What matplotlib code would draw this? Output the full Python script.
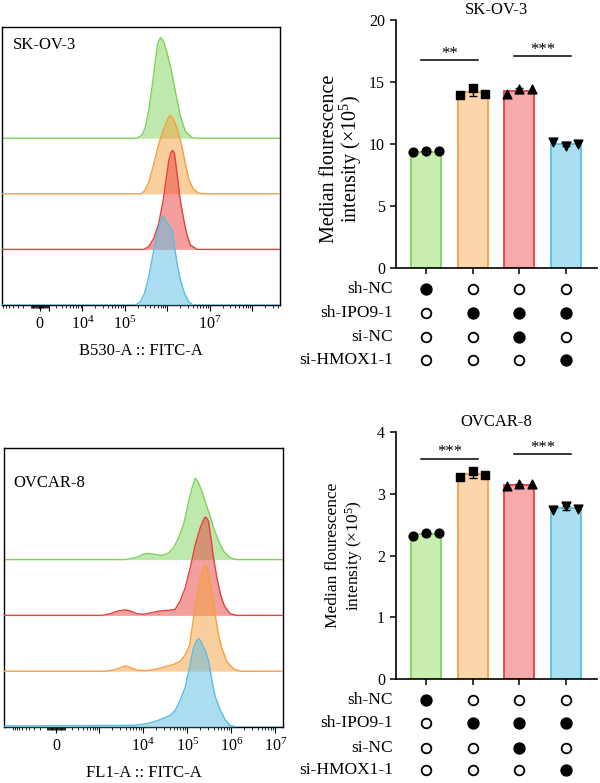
import matplotlib

matplotlib.use("Agg")
import matplotlib.pyplot as plt  # noqa: E402
import matplotlib.transforms as mtransforms  # noqa: E402
import numpy as np  # noqa: E402
from matplotlib.ticker import FixedFormatter, FixedLocator, NullFormatter  # noqa: E402

plt.rcParams["font.family"] = ["Liberation Serif", "DejaVu Serif"]
plt.rcParams["mathtext.fontset"] = "custom"
plt.rcParams["mathtext.rm"] = "Liberation Serif"
plt.rcParams["mathtext.it"] = "Liberation Serif:italic"
plt.rcParams["mathtext.bf"] = "Liberation Serif:bold"

# ---------------- data ----------------
groups = ["sh-NC", "sh-IPO9-1", "si-NC", "si-HMOX1-1"]
design = [[1, 0, 0, 0],      # sh-NC
          [0, 1, 1, 1],      # sh-IPO9-1
          [0, 0, 1, 0],      # si-NC
          [0, 0, 0, 1]]      # si-HMOX1-1

# median fluorescence (x10^5), three replicates per condition
skov3_reps = [[9.35, 9.40, 9.40], [13.95, 14.50, 14.05],
              [14.05, 14.45, 14.40], [10.20, 9.85, 10.00]]
ovcar8_reps = [[2.31, 2.37, 2.36], [3.27, 3.37, 3.30],
               [3.12, 3.15, 3.15], [2.74, 2.80, 2.75]]
skov3_sig = [(0, 1, 16.8, "**"), (2, 3, 17.1, "***")]
ovcar8_sig = [(0, 1, 3.57, "***"), (2, 3, 3.65, "***")]

# flow histograms: fluorescence value -> normalised count (1 = one row)
skov3_sh_nc_x = [1.96e5, 2.57e5, 3.08e5, 3.68e5, 4.41e5, 5.28e5, 5.98e5, 6.92e5, 8.29e5,
                 9.92e5, 1.19e6, 1.42e6, 1.70e6, 2.04e6, 2.67e6, 3.83e6, 5.03e6]
skov3_sh_nc_h = [0, 0.06, 0.21, 0.51, 0.93, 1.41, 1.71, 1.81, 1.74,
                 1.53, 1.29, 0.99, 0.69, 0.39, 0.12, 0.01, 0]
skov3_sh_ipo9_x = [2.35e5, 2.92e5, 3.68e5, 4.83e5, 6.32e5, 8.29e5, 1.03e6, 1.15e6, 1.30e6,
                   1.56e6, 1.86e6, 2.23e6, 2.67e6, 3.2e6, 4.06e6, 5.5e6, 7.2e6]
skov3_sh_ipo9_h = [0, 0.05, 0.21, 0.54, 0.90, 1.17, 1.35, 1.41, 1.38,
                   1.26, 1.08, 0.84, 0.54, 0.27, 0.09, 0.01, 0]
skov3_si_nc_x = [2.82e5, 3.68e5, 4.83e5, 6.32e5, 8.05e5, 9.58e5, 1.09e6, 1.23e6, 1.35e6,
                 1.48e6, 1.70e6, 1.97e6, 2.37e6, 2.84e6, 3.5e6, 5.03e6]
skov3_si_nc_h = [0, 0.05, 0.20, 0.47, 0.89, 1.31, 1.60, 1.75, 1.78,
                 1.72, 1.37, 0.95, 0.59, 0.29, 0.08, 0]
skov3_si_hmox1_x = [1.79e5, 2.35e5, 2.92e5, 3.68e5, 4.66e5, 5.78e5, 6.92e5, 7.8e5, 9.06e5,
                    1.09e6, 1.30e6, 1.48e6, 1.70e6, 2.04e6, 2.54e6, 3.2e6, 4.06e6]
skov3_si_hmox1_h = [0, 0.06, 0.21, 0.51, 0.93, 1.29, 1.50, 1.60, 1.53,
                    1.44, 1.35, 1.05, 0.75, 0.45, 0.21, 0.06, 0]

ovcar8_sh_nc_x = [3.9e3, 7.2e3, 1.02e4, 1.33e4, 1.73e4, 2.25e4, 2.91e4, 3.78e4, 4.9e4,
                  6.36e4, 8.28e4, 1.08e5, 1.28e5, 1.53e5, 1.82e5, 2.17e5, 2.57e5, 3.06e5,
                  3.97e5, 5.18e5, 6.73e5, 9.5e5, 1.35e6]
ovcar8_sh_nc_h = [0, 0.04, 0.10, 0.11, 0.10, 0.08, 0.08, 0.12, 0.21,
                  0.39, 0.63, 1.04, 1.28, 1.46, 1.37, 1.22, 1.04, 0.86,
                  0.57, 0.33, 0.15, 0.03, 0]
ovcar8_si_nc_x = [1.14e3, 1.78e3, 2.74e3, 3.9e3, 5.07e3, 7.2e3, 1.02e4, 1.58e4, 2.44e4,
                  3.78e4, 5.36e4, 6.94e4, 9.0e4, 1.17e5, 1.53e5, 1.98e5, 2.45e5, 2.7e5,
                  3.06e5, 3.47e5, 3.97e5, 4.75e5, 5.68e5, 7.0e5, 9.5e5, 1.35e6]
ovcar8_si_nc_h = [0, 0.03, 0.08, 0.10, 0.08, 0.03, 0.02, 0.05, 0.08,
                  0.09, 0.11, 0.26, 0.49, 0.85, 1.27, 1.57, 1.75, 1.76,
                  1.68, 1.38, 1.03, 0.67, 0.38, 0.17, 0.03, 0]
ovcar8_sh_ipo9_x = [1.36e3, 2.1e3, 3.0e3, 4.1e3, 5.3e3, 7.2e3, 1.22e4, 2.05e4, 3.46e4,
                    4.9e4, 6.94e4, 9.0e4, 1.13e5, 1.35e5, 1.67e5, 2.06e5, 2.45e5, 2.66e5,
                    3.06e5, 3.65e5, 4.35e5, 5.18e5, 6.2e5, 8.0e5, 1.14e6, 1.6e6]
ovcar8_sh_ipo9_h = [0, 0.02, 0.06, 0.095, 0.06, 0.02, 0.01, 0.04, 0.09,
                    0.12, 0.18, 0.29, 0.46, 0.88, 1.36, 1.71, 1.88, 1.89,
                    1.77, 1.42, 1.0, 0.64, 0.40, 0.17, 0.04, 0]
ovcar8_si_hmox1_x = [-1.5e3, 6.05e3, 1.22e4, 2.05e4, 3.18e4, 4.13e4, 5.36e4, 6.94e4, 9.0e4,
                     1.13e5, 1.40e5, 1.67e5, 1.89e5, 2.17e5, 2.57e5, 3.06e5, 3.65e5, 4.35e5,
                     5.68e5, 7.4e5, 9.5e5, 1.35e6]
ovcar8_si_hmox1_h = [0.02, 0.03, 0.06, 0.11, 0.17, 0.21, 0.30, 0.48, 0.71,
                     1.07, 1.43, 1.56, 1.58, 1.49, 1.37, 1.19, 0.83, 0.54,
                     0.30, 0.12, 0.03, 0]

# ---------------- style ----------------
LINE = ["#7ed35a", "#f6a03f", "#e8403f", "#5bbde2"]
FILL = ["#c8efb0", "#fbd5ab", "#f7aaaa", "#a9dfee"]
MARKERS = ["o", "s", "^", "v"]
DOT_ROWS = [-0.085, -0.18, -0.278, -0.37]   # dot-matrix rows, axes fraction below x axis
YLABEL = "Median flourescence\nintensity (×10$^5$)"

W, H = 600, 783
fig = plt.figure(figsize=(W / 100, H / 100), dpi=100)


def px_axes(x0, y0, x1, y1):
    return fig.add_axes([x0 / W, 1 - y1 / H, (x1 - x0) / W, (y1 - y0) / H])


def minor_ticks(lo, hi, majors):
    t = []
    for d in range(1, 9):
        for k in range(1, 10):
            for s in (1, -1):
                v = s * k * 10 ** d
                if lo < v < hi and v not in majors:
                    t.append(v)
    return t


def draw_histograms(ax, curves, lw_lin, xlim, majors, labels, xlabel, name, name_xy):
    ax.set_xscale("asinh", linear_width=lw_lin)
    ax.set_xlim(*xlim)
    ax.set_ylim(0, 5)
    n = len(curves)
    for i, (x, h, gi) in enumerate(curves):
        base = n - 1 - i
        xs = [xlim[0]] + list(x) + [xlim[1]]
        ys = base + np.array([0] + list(h) + [0])
        ax.fill_between(xs, base, ys, color=LINE[gi], alpha=0.5, lw=0, zorder=2 + i)
        ax.plot(xs, ys, color=LINE[gi], lw=1.0, zorder=2 + i)
    ax.xaxis.set_major_locator(FixedLocator(majors))
    ax.xaxis.set_major_formatter(FixedFormatter(labels))
    ax.xaxis.set_minor_locator(FixedLocator(minor_ticks(xlim[0], xlim[1], majors)))
    ax.xaxis.set_minor_formatter(NullFormatter())
    ax.tick_params(axis="x", which="major", length=4.5, width=0.8, labelsize=11.5, pad=3.5)
    ax.tick_params(axis="x", which="minor", length=2.2, width=0.6)
    ax.set_yticks([])
    for sp in ax.spines.values():
        sp.set_linewidth(1.0)
    ax.set_xlabel(xlabel, fontsize=12, labelpad=7)
    ax.text(name_xy[0], name_xy[1], name, transform=ax.transAxes, fontsize=12,
            ha="left", va="center")


def draw_bars(ax, reps, ylim, yticks, sigs, title, ylab_size, ylab_spacing, ylab_xy):
    x = np.arange(len(reps))
    means = [np.mean(r) for r in reps]
    sds = [np.std(r, ddof=1) for r in reps]
    ax.bar(x, means, width=0.645, color=FILL, edgecolor=LINE, linewidth=1.3, zorder=2)
    ax.errorbar(x, means, yerr=sds, fmt="none", ecolor="black", elinewidth=1.0,
                capsize=3, capthick=1.0, zorder=3)
    for xi, r, m in zip(x, reps, MARKERS):
        ax.scatter(xi + np.array([-0.27, 0.0, 0.27]), r, marker=m, s=40, color="black",
                   zorder=4, clip_on=False)
    for i, j, y, stars in sigs:
        ax.plot([i - 0.11, j + 0.11], [y, y], color="black", lw=1.1)
        ax.annotate(stars, xy=((i + j) / 2, y), xytext=(0, 1.5), textcoords="offset points",
                    ha="center", va="baseline", fontsize=12)
    ax.set_xlim(-0.645, 3.67)
    ax.set_ylim(*ylim)
    ax.set_yticks(yticks)
    ax.set_xticks(x)
    ax.set_xticklabels([])
    ax.spines[["top", "right"]].set_visible(False)
    ax.spines[["left", "bottom"]].set_linewidth(1.2)
    ax.tick_params(axis="both", length=4.5, width=1.1, labelsize=11.5)
    ax.set_ylabel(YLABEL, fontsize=ylab_size, linespacing=ylab_spacing)
    ax.yaxis.set_label_coords(*ylab_xy)
    ax.set_title(title, fontsize=12, pad=4)
    # treatment design matrix under the bars
    tr = mtransforms.blended_transform_factory(ax.transData, ax.transAxes)
    for row, (name, flags) in enumerate(zip(groups, design)):
        yy = DOT_ROWS[row]
        for xi, f in zip(x, flags):
            if f:
                ax.scatter(xi, yy, s=62, color="black", transform=tr, clip_on=False)
            else:
                ax.scatter(xi, yy, s=48, facecolor="white", edgecolor="black",
                           linewidth=1.3, transform=tr, clip_on=False)
        ax.text(-0.015, yy, name, transform=ax.transAxes, ha="right", va="center",
                fontsize=12.5)


# ---- SK-OV-3 ----
ax1 = px_axes(2, 27, 280, 305)
draw_histograms(
    ax1,
    [(skov3_sh_nc_x, skov3_sh_nc_h, 0), (skov3_sh_ipo9_x, skov3_sh_ipo9_h, 1),
     (skov3_si_nc_x, skov3_si_nc_h, 2), (skov3_si_hmox1_x, skov3_si_hmox1_h, 3)],
    2000, (-7600, 4.5e8),
    [0, 1e3, 1e4, 1e5, 1e6, 1e7, 1e8],
    ["0", "", "$10^4$", "$10^5$", "", "$10^7$", ""],
    "B530-A :: FITC-A", "SK-OV-3", (0.04, 0.935))

ax2 = px_axes(396, 20, 597, 268)
draw_bars(ax2, skov3_reps, (0, 20), [0, 5, 10, 15, 20], skov3_sig, "SK-OV-3",
          14.5, 0.92, (-0.16, 0.44))

# ---- OVCAR-8 ----
ax3 = px_axes(4, 448, 283, 727)
draw_histograms(
    ax3,
    [(ovcar8_sh_nc_x, ovcar8_sh_nc_h, 0), (ovcar8_si_nc_x, ovcar8_si_nc_h, 2),
     (ovcar8_sh_ipo9_x, ovcar8_sh_ipo9_h, 1), (ovcar8_si_hmox1_x, ovcar8_si_hmox1_h, 3)],
    211, (-1600, 1.5e7),
    [0, 1e3, 1e4, 1e5, 1e6, 1e7],
    ["0", "", "$10^4$", "$10^5$", "$10^6$", "$10^7$"],
    "FL1-A :: FITC-A", "OVCAR-8", (0.032, 0.875))

ax4 = px_axes(396, 432, 597, 679)
draw_bars(ax4, ovcar8_reps, (0, 4), [0, 1, 2, 3, 4], ovcar8_sig, "OVCAR-8",
          12.5, 1.1, (-0.155, 0.5))

fig.savefig("out.png", dpi=100)
